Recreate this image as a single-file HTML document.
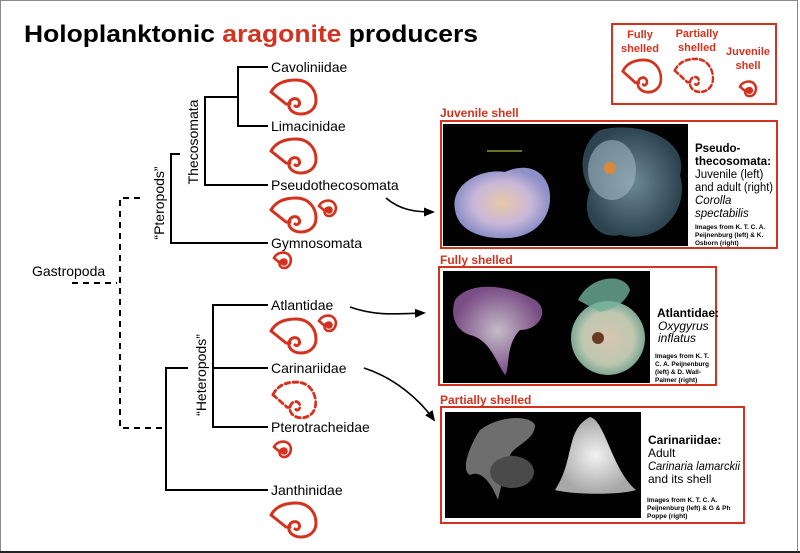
<!DOCTYPE html>
<html><head><meta charset="utf-8"><style>
html,body{margin:0;padding:0;background:#fff}
svg{display:block}
text{font-family:"Liberation Sans",Arial,sans-serif}
</style></head><body>
<svg width="800" height="553" viewBox="0 0 800 553" xmlns="http://www.w3.org/2000/svg">
<defs>
<g id="shell" fill="none" stroke="#d4321e" stroke-width="3" stroke-linejoin="round" stroke-linecap="round">
<path d="M2,14 C7,5 16,2 27,2 C39,2 47,11 47,22 C47,31 40,36 32,36 C24,36 19,31 20,26 C21,20 28,19 30,23 C32,27 28,30 26,28"/>
<path d="M2,14 L17,26 L21,26"/>
</g>
<g id="juv">
<path d="M1,7 C4,1 12,0 16,4 C20,9 17,17 11,17 C6,17 5,11 9,9" fill="none" stroke="#d4321e" stroke-width="2.6" stroke-linecap="round"/>
<path d="M1,7 L7,12" fill="none" stroke="#d4321e" stroke-width="2.6" stroke-linecap="round"/>
<circle cx="11" cy="11" r="3.8" fill="#d4321e"/>
</g>
<g id="pshell" fill="none" stroke="#d4321e" stroke-width="2.8" stroke-dasharray="5,3.5" stroke-linecap="round">
<path d="M2,14 C7,5 16,2 27,2 C39,2 47,11 47,22 C47,31 40,36 32,36 C24,36 19,31 20,26 C21,20 28,19 30,23 C32,27 28,30 26,28"/>
<path d="M2,14 L17,26 L21,26"/>
</g>
<marker id="ah" markerWidth="11" markerHeight="9" refX="9" refY="4.5" orient="auto" markerUnits="userSpaceOnUse">
<path d="M0,0 L11,4.5 L0,9 z" fill="#000"/>
</marker>
<radialGradient id="g1" cx="50%" cy="50%" r="50%"><stop offset="0" stop-color="#e8c9a8"/><stop offset="0.6" stop-color="#c9b7d8"/><stop offset="1" stop-color="#8c8fc8"/></radialGradient>
<radialGradient id="g2" cx="50%" cy="50%" r="50%"><stop offset="0" stop-color="#6e8a96"/><stop offset="1" stop-color="#2d4350"/></radialGradient>
<radialGradient id="g3" cx="50%" cy="50%" r="50%"><stop offset="0" stop-color="#d8c6b0"/><stop offset="0.7" stop-color="#bfc7b0"/><stop offset="1" stop-color="#7ea896"/></radialGradient>
<radialGradient id="g4" cx="50%" cy="50%" r="50%"><stop offset="0" stop-color="#e8dcec"/><stop offset="1" stop-color="#8e5a9c"/></radialGradient>
<radialGradient id="g5" cx="50%" cy="50%" r="50%"><stop offset="0" stop-color="#f2f2f2"/><stop offset="1" stop-color="#a8a8a8"/></radialGradient>
</defs>
<rect x="0.5" y="0.5" width="797" height="551" fill="#fff" stroke="#888" stroke-width="1"/>
<line x1="0" y1="552" x2="800" y2="552" stroke="#222" stroke-width="2"/>

<text x="24" y="42" font-size="24" font-weight="bold" textLength="454" lengthAdjust="spacingAndGlyphs">Holoplanktonic <tspan fill="#d4321e">aragonite</tspan> producers</text>

<!-- legend -->
<rect x="612" y="24" width="164" height="80" fill="none" stroke="#d4321e" stroke-width="2"/>
<g fill="#d4321e" font-size="11" font-weight="bold" text-anchor="middle">
<text x="640" y="38">Fully</text><text x="640" y="52">shelled</text>
<text x="697" y="37">Partially</text><text x="697" y="51">shelled</text>
<text x="748" y="55">Juvenile</text><text x="748" y="69">shell</text>
</g>
<use href="#shell" transform="translate(621,58) scale(0.85,0.95)"/>
<use href="#pshell" transform="translate(673,57) scale(0.85,0.97)"/>
<use href="#juv" transform="translate(739,80) scale(0.95)"/>

<!-- tree -->
<g stroke="#000" stroke-width="2" fill="none">
<path d="M268,67 H238 V126 H268"/>
<path d="M238,97 H205 V185 H268"/>
<path d="M180,154 H171 V243 H268"/>
<path d="M188,368 H166 V490 H268"/>
<path d="M268,305 H213 V427 H268"/>
<path d="M213,368 H268"/>
</g>
<g stroke="#000" stroke-width="2" fill="none" stroke-dasharray="6,5">
<path d="M140,198 H120 V428 H165"/>
<path d="M72,283 H117"/>
</g>
<g font-size="14" fill="#000">
<text x="271" y="72">Cavoliniidae</text>
<text x="271" y="131">Limacinidae</text>
<text x="271" y="190">Pseudothecosomata</text>
<text x="271" y="248">Gymnosomata</text>
<text x="271" y="310">Atlantidae</text>
<text x="271" y="373">Carinariidae</text>
<text x="271" y="432">Pterotracheidae</text>
<text x="271" y="495">Janthinidae</text>
<text x="32" y="276">Gastropoda</text>
<text transform="translate(198,142) rotate(-90)" text-anchor="middle">Thecosomata</text>
<text transform="translate(164,203) rotate(-90)" text-anchor="middle">“Pteropods”</text>
<text transform="translate(206,375) rotate(-90)" text-anchor="middle">“Heteropods”</text>
</g>
<use href="#shell" transform="translate(269,78)"/>
<use href="#shell" transform="translate(269,137)"/>
<use href="#shell" transform="translate(269,196)"/>
<use href="#juv" transform="translate(318,199)"/>
<use href="#juv" transform="translate(273,251)"/>
<use href="#shell" transform="translate(269,317)"/>
<use href="#juv" transform="translate(318,314)"/>
<use href="#pshell" transform="translate(271,380) scale(0.95,1.05)"/>
<use href="#juv" transform="translate(273,440)"/>
<use href="#shell" transform="translate(269,501)"/>

<!-- arrows -->
<g stroke="#000" stroke-width="1.6" fill="none">
<path d="M386,198 C400,210 415,212 433,212" marker-end="url(#ah)"/>
<path d="M350,307 C375,316 395,314 424,313" marker-end="url(#ah)"/>
<path d="M364,368 C395,378 420,400 434,420" marker-end="url(#ah)"/>
</g>

<!-- panel 1 -->
<text x="440" y="117" font-size="12" font-weight="bold" fill="#d4321e">Juvenile shell</text>
<rect x="441" y="121" width="336" height="127" fill="#fff" stroke="#d4321e" stroke-width="2"/>
<rect x="443" y="124" width="245" height="122" fill="#020202"/>
<path d="M455,210 C450,185 480,168 505,172 C520,165 540,165 548,185 C555,205 545,235 510,238 C480,240 458,230 455,210z" fill="url(#g1)"/>
<line x1="487" y1="151" x2="522" y2="151" stroke="#e0e040" stroke-width="1"/>
<path d="M600,130 C640,120 690,140 680,175 C690,210 660,245 620,235 C595,240 580,215 590,190 C575,165 585,140 600,130z" fill="url(#g2)"/>
<ellipse cx="612" cy="170" rx="24" ry="30" fill="#9fb6c2" opacity="0.6"/>
<circle cx="610" cy="168" r="6" fill="#d88a3a"/>
<g font-size="11.5" fill="#000"><text x="695" y="152" font-weight="bold">Pseudo-</text><text x="695" y="165" font-weight="bold" textLength="76" lengthAdjust="spacingAndGlyphs">thecosomata:</text>
<text x="695" y="178">Juvenile (left)</text><text x="695" y="191" textLength="78" lengthAdjust="spacingAndGlyphs">and adult (right)</text>
<text x="695" y="204" font-style="italic">Corolla</text><text x="695" y="217" font-style="italic">spectabilis</text></g>
<g font-size="6.5" font-weight="bold" fill="#000"><text x="695" y="229">Images from K. T. C. A.</text><text x="695" y="237">Peijnenburg (left) &amp; K.</text><text x="695" y="245">Osborn (right)</text></g>

<!-- panel 2 -->
<text x="440" y="264" font-size="12" font-weight="bold" fill="#d4321e">Fully shelled</text>
<rect x="439" y="267" width="277" height="118" fill="#fff" stroke="#d4321e" stroke-width="2"/>
<rect x="443" y="271" width="207" height="112" fill="#020202"/>
<path d="M455,300 C470,280 510,285 535,300 C550,310 540,330 520,330 C505,345 510,370 505,375 C495,360 490,340 470,335 C455,330 450,315 455,300z" fill="url(#g4)" opacity="0.85"/>
<circle cx="608" cy="338" r="37" fill="url(#g3)"/>
<path d="M578,300 C590,275 625,272 630,290 C625,305 610,310 600,312z" fill="#6fb09a" opacity="0.8"/>
<circle cx="598" cy="338" r="6" fill="#6b3a22"/>
<g font-size="12" fill="#000"><text x="657" y="317" font-weight="bold">Atlantidae:</text>
<text x="658" y="330" font-style="italic">Oxygyrus</text><text x="658" y="342" font-style="italic">inflatus</text></g>
<g font-size="6.5" font-weight="bold" fill="#000"><text x="655" y="358">Images from K. T.</text><text x="655" y="366">C. A. Peijnenburg</text><text x="655" y="374">(left) &amp; D. Wall-</text><text x="655" y="382">Palmer (right)</text></g>

<!-- panel 3 -->
<text x="440" y="404" font-size="12" font-weight="bold" fill="#d4321e">Partially shelled</text>
<rect x="441" y="407" width="303" height="116" fill="#fff" stroke="#d4321e" stroke-width="2"/>
<rect x="445" y="412" width="196" height="106" fill="#020202"/>
<path d="M480,430 C500,415 530,415 535,425 C535,440 515,445 510,455 C505,470 500,490 498,500 C490,480 480,470 470,475 C460,470 470,445 480,430z" fill="#8a8a8a" opacity="0.8"/>
<ellipse cx="512" cy="472" rx="22" ry="16" fill="#4a4a4a"/>
<path d="M555,490 C575,460 565,430 590,417 C605,420 612,470 636,490 C620,495 575,495 555,490z" fill="url(#g5)"/>
<g font-size="12" fill="#000"><text x="648" y="444" font-weight="bold">Carinariidae:</text>
<text x="648" y="457">Adult</text><text x="648" y="470" font-style="italic" textLength="92" lengthAdjust="spacingAndGlyphs">Carinaria lamarckii</text><text x="648" y="483">and its shell</text></g>
<g font-size="6.5" font-weight="bold" fill="#000"><text x="647" y="502">Images from K. T. C. A.</text><text x="647" y="510">Peijnenburg (left) &amp; G &amp; Ph</text><text x="647" y="518">Poppe (right)</text></g>
</svg>
</body></html>
